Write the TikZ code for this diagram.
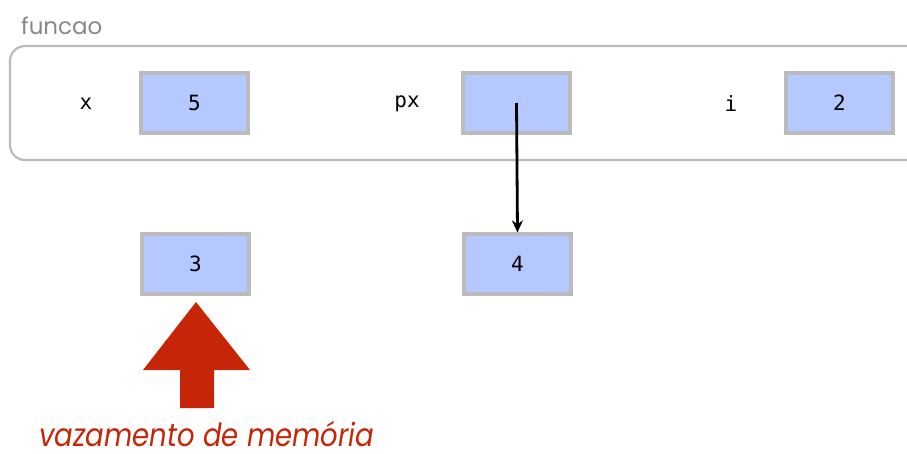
\documentclass[tikz,border=0pt]{standalone}
\usepackage{fontspec}
\setmainfont{Poppins}
\setmonofont{DejaVu Sans Mono}
\newfontfamily\leakfont{Poppins}[FakeStretch=0.86]
\usetikzlibrary{arrows.meta}
\definecolor{boxfill}{HTML}{B5C8FF}
\definecolor{boxedge}{HTML}{BBBBBB}
\definecolor{leakred}{HTML}{C72507}
\definecolor{titlegray}{HTML}{888888}
\tikzset{
  cell/.style={draw=boxedge, line width=3.2pt, fill=boxfill, minimum width=107pt, minimum height=60pt, inner sep=0pt, font=\ttfamily\fontsize{21}{24}\selectfont},
  varname/.style={inner sep=0pt, font=\ttfamily\fontsize{21}{24}\selectfont},
  pointer/.style={line width=2.8pt, -{Stealth[length=12pt,width=11pt]}}
}
\begin{document}
\begin{tikzpicture}[x=1pt,y=-1pt]
\useasboundingbox (0,0) rectangle (907,453);
\clip (0,0) rectangle (907,453);
\draw[boxedge, line width=2.2pt, rounded corners=15pt] (10,46) rectangle (940,160);
\node[anchor=base west, inner sep=0pt, text=titlegray, font=\fontsize{23}{27}\selectfont] (title) at (21,34) {funcao};
\node[varname] (lx) at (86,104) {x};
\node[cell] (bx) at (194.5,103) {5};
\node[varname] (lpx) at (407,104) {px};
\node[cell] (bpx) at (516.5,103) {};
\node[varname] (li) at (731,104) {i};
\node[cell] (bi) at (839.5,103) {2};
\node[cell] (b3) at (195.5,264) {3};
\node[cell] (b4) at (517.5,264) {4};
\draw[pointer] (bpx.center) -- (b4.north);
\fill[leakred] (196,302) -- (250,370) -- (214,370) -- (214,408) -- (180,408) -- (180,370) -- (143,370) -- cycle;
\node[anchor=base west, inner sep=0pt, text depth=0pt, text=leakred, font=\leakfont\itshape\fontsize{32}{36}\selectfont] (leak) at (39,446) {vazamento de memória};
\end{tikzpicture}
\end{document}
